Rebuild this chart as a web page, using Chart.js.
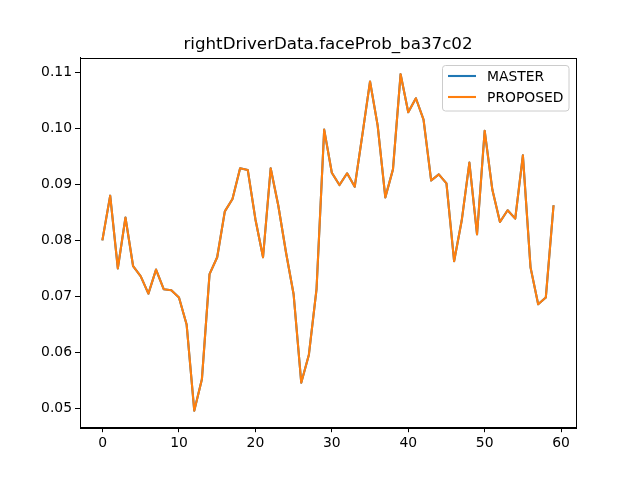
<!DOCTYPE html>
<html>
<head>
<meta charset="utf-8">
<script src="https://cdn.jsdelivr.net/npm/chart.js@4"></script>
<style>
  html, body { margin: 0; padding: 0; background: #fff; }
</style>
</head>
<body>
<canvas id="myChart" width="640" height="480"></canvas>
<script>
const chartTitle = 'rightDriverData.faceProb_ba37c02';
const seriesNames = ['MASTER', 'PROPOSED'];
const steps = [];
for (let i = 0; i < 60; i++) steps.push(i);

const masterValues = [
  0.0802, 0.0880, 0.0750, 0.0841, 0.0754, 0.0736, 0.0705, 0.0748, 0.0713, 0.0711,
  0.0698, 0.0650, 0.0496, 0.0552, 0.0740, 0.0770, 0.0852, 0.0874, 0.0929, 0.0926,
  0.0838, 0.0770, 0.0929, 0.0862, 0.0779, 0.0704, 0.0546, 0.0596, 0.0713, 0.0998,
  0.0921, 0.0899, 0.0920, 0.0896, 0.0989, 0.1084, 0.1005, 0.0877, 0.0927, 0.1097,
  0.1029, 0.1054, 0.1016, 0.0907, 0.0918, 0.0902, 0.0763, 0.0836, 0.0939, 0.0811,
  0.0996, 0.0891, 0.0833, 0.0854, 0.0839, 0.0952, 0.0752, 0.0686, 0.0698, 0.0861
];
// both runs give the same numbers
const proposedValues = masterValues.slice();

const xTicks = [0, 10, 20, 30, 40, 50, 60];
const yTicks = [0.05, 0.06, 0.07, 0.08, 0.09, 0.10, 0.11];

const font = 'DejaVu Sans';

// frame, title and matplotlib-like legend
const decor = {
  id: 'decor',
  afterDraw(chart) {
    const ctx = chart.ctx;
    const a = chart.chartArea;
    ctx.save();
    ctx.strokeStyle = '#000';
    ctx.lineWidth = 1;
    ctx.strokeRect(Math.round(a.left) + 0.5, Math.round(a.top) + 0.5,
      Math.round(a.right - a.left), Math.round(a.bottom - a.top));

    ctx.fillStyle = '#000';
    ctx.font = '16.7px "' + font + '"';
    ctx.textAlign = 'center';
    ctx.textBaseline = 'alphabetic';
    ctx.fillText(chartTitle, (a.left + a.right) / 2, 48.5);

    // legend box
    const bx = 442.5, by = 65.5, bw = 126.5, bh = 45.5, r = 3;
    ctx.beginPath();
    ctx.moveTo(bx + r, by);
    ctx.arcTo(bx + bw, by, bx + bw, by + bh, r);
    ctx.arcTo(bx + bw, by + bh, bx, by + bh, r);
    ctx.arcTo(bx, by + bh, bx, by, r);
    ctx.arcTo(bx, by, bx + bw, by, r);
    ctx.closePath();
    ctx.fillStyle = 'rgba(255,255,255,0.8)';
    ctx.fill();
    ctx.strokeStyle = '#cccccc';
    ctx.stroke();

    ctx.font = '13.9px "' + font + '"';
    ctx.textAlign = 'left';
    ctx.textBaseline = 'middle';
    chart.data.datasets.forEach((ds, i) => {
      const y = 76 + i * 21;
      ctx.strokeStyle = ds.borderColor;
      ctx.lineWidth = 2.1;
      ctx.beginPath();
      ctx.moveTo(448, y);
      ctx.lineTo(476, y);
      ctx.stroke();
      ctx.fillStyle = '#000';
      ctx.fillText(ds.label, 487, y + 1);
    });
    ctx.restore();
  }
};

const ctx = document.getElementById('myChart').getContext('2d');
const myChart = new Chart(ctx, {
  type: 'line',
  data: {
    labels: steps,
    datasets: [{
      label: seriesNames[0],
      data: steps.map((s, i) => ({ x: s, y: masterValues[i] })),
      borderColor: '#1f77b4',
      borderWidth: 2.1,
      borderJoinStyle: 'round',
      borderCapStyle: 'square',
      pointRadius: 0,
      tension: 0,
      fill: false,
      order: 1
    }, {
      label: seriesNames[1],
      data: steps.map((s, i) => ({ x: s, y: proposedValues[i] })),
      borderColor: '#ff7f0e',
      borderWidth: 2.1,
      borderJoinStyle: 'round',
      borderCapStyle: 'square',
      pointRadius: 0,
      tension: 0,
      fill: false,
      order: 0
    }]
  },
  options: {
    responsive: false,
    animation: false,
    devicePixelRatio: 1,
    layout: { padding: { left: 0, right: 64, top: 57.6, bottom: 0 } },
    plugins: {
      legend: { display: false },
      title: { display: false },
      tooltip: { enabled: false }
    },
    scales: {
      x: {
        type: 'linear',
        min: -2.95,
        max: 61.95,
        afterFit: (s) => { s.height = 52.8; },
        afterBuildTicks: (s) => { s.ticks = xTicks.map(v => ({ value: v })); },
        grid: { drawOnChartArea: false, drawTicks: true, tickLength: 5, tickColor: '#000', tickWidth: 1 },
        border: { display: true, color: '#000' },
        ticks: {
          color: '#000',
          font: { family: font, size: 13.9 },
          padding: 3,
          autoSkip: false,
          maxRotation: 0,
          callback: (v) => String(v)
        }
      },
      y: {
        type: 'linear',
        min: 0.04665,
        max: 0.11266,
        afterFit: (s) => { s.width = 80; },
        afterBuildTicks: (s) => { s.ticks = yTicks.map(v => ({ value: v })); },
        grid: { drawOnChartArea: false, drawTicks: true, tickLength: 5, tickColor: '#000', tickWidth: 1 },
        border: { display: true, color: '#000' },
        ticks: {
          color: '#000',
          font: { family: font, size: 13.9 },
          padding: 3,
          autoSkip: false,
          callback: (v) => v.toFixed(2)
        }
      }
    }
  },
  plugins: [decor]
});
</script>
</body>
</html>
